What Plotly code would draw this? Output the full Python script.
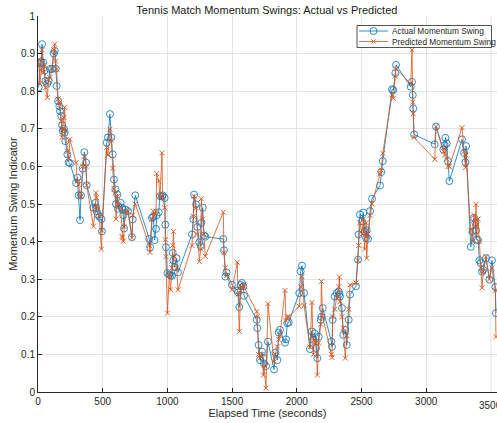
import plotly.graph_objects as go

elapsed_time = [5, 15, 25, 31, 41, 50, 57, 72, 82, 93, 108, 122, 129, 137, 144, 155, 165, 170, 180, 186,
                191, 200, 206, 211, 227, 237, 247, 294, 304, 314, 325, 332, 345, 358, 371, 376, 428, 443, 448, 453,
                463, 474, 490, 494, 531, 541, 556, 567, 577, 587, 598, 603, 613, 618, 639, 649, 654, 659, 665, 675,
                696, 726, 732, 752, 860, 866, 881, 891, 901, 912, 917, 933, 943, 958, 963, 979, 984, 989, 1000, 1015,
                1025, 1036, 1041, 1046, 1056, 1071, 1082, 1190, 1200, 1206, 1221, 1231, 1247, 1257, 1262, 1273, 1283, 1293, 1432, 1437,
                1448, 1458, 1499, 1540, 1546, 1556, 1566, 1576, 1587, 1592, 1690, 1695, 1705, 1716, 1731, 1742, 1747, 1762, 1777, 1824,
                1834, 1850, 1860, 1870, 1909, 1916, 1927, 1937, 2019, 2030, 2040, 2056, 2102, 2117, 2128, 2138, 2148, 2159, 2169, 2185,
                2190, 2200, 2267, 2272, 2277, 2293, 2308, 2324, 2329, 2334, 2349, 2359, 2375, 2386, 2401, 2411, 2457, 2473, 2478, 2488,
                2504, 2514, 2524, 2535, 2540, 2550, 2566, 2581, 2643, 2653, 2664, 2736, 2746, 2761, 2767, 2880, 2890, 2896, 2900, 2906,
                3066, 3076, 3132, 3143, 3148, 3159, 3168, 3179, 3277, 3293, 3303, 3308, 3344, 3359, 3369, 3380, 3385, 3390, 3400, 3411,
                3421, 3431, 3441, 3462, 3488, 3508, 3534, 3539]

actual_swing = [0.81, 0.875, 0.877, 0.925, 0.876, 0.855, 0.827, 0.82, 0.827, 0.859, 0.859, 0.9, 0.907, 0.86, 0.814, 0.774, 0.76, 0.747, 0.734, 0.71,
                0.694, 0.7, 0.69, 0.667, 0.632, 0.611, 0.608, 0.556, 0.57, 0.523, 0.457, 0.523, 0.594, 0.638, 0.61, 0.55, 0.49, 0.503, 0.49, 0.481,
                0.472, 0.466, 0.46, 0.427, 0.663, 0.677, 0.739, 0.677, 0.632, 0.565, 0.539, 0.5, 0.525, 0.487, 0.503, 0.49, 0.485, 0.47, 0.435, 0.485,
                0.481, 0.412, 0.459, 0.523, 0.407, 0.385, 0.463, 0.466, 0.404, 0.434, 0.47, 0.478, 0.521, 0.52, 0.523, 0.516, 0.445, 0.385, 0.316, 0.312,
                0.31, 0.309, 0.37, 0.35, 0.332, 0.356, 0.318, 0.419, 0.46, 0.525, 0.499, 0.439, 0.398, 0.388, 0.45, 0.49, 0.416, 0.413, 0.407, 0.377,
                0.307, 0.318, 0.285, 0.27, 0.265, 0.226, 0.285, 0.29, 0.281, 0.256, 0.192, 0.17, 0.125, 0.085, 0.107, 0.09, 0.076, 0.069, 0.134, 0.06,
                0.105, 0.085, 0.158, 0.165, 0.131, 0.14, 0.183, 0.185, 0.263, 0.321, 0.336, 0.263, 0.114, 0.161, 0.139, 0.156, 0.117, 0.09, 0.147, 0.192,
                0.2, 0.223, 0.134, 0.12, 0.192, 0.254, 0.263, 0.267, 0.26, 0.254, 0.223, 0.152, 0.165, 0.125, 0.192, 0.259, 0.281, 0.352, 0.419, 0.472,
                0.454, 0.477, 0.427, 0.41, 0.43, 0.407, 0.481, 0.514, 0.549, 0.585, 0.614, 0.805, 0.803, 0.848, 0.87, 0.812, 0.825, 0.79, 0.754, 0.685,
                0.659, 0.706, 0.645, 0.656, 0.676, 0.661, 0.614, 0.561, 0.672, 0.636, 0.611, 0.654, 0.386, 0.427, 0.463, 0.45, 0.43, 0.405, 0.404, 0.35,
                0.343, 0.32, 0.325, 0.356, 0.299, 0.35, 0.279, 0.21]

predicted_swing = [0.885, 0.82, 0.86, 0.91, 0.85, 0.87, 0.81, 0.783, 0.83, 0.836, 0.86, 0.91, 0.925, 0.88, 0.859, 0.779, 0.77, 0.765, 0.72, 0.677,
                   0.699, 0.73, 0.757, 0.695, 0.64, 0.62, 0.672, 0.61, 0.56, 0.552, 0.52, 0.52, 0.6, 0.627, 0.6, 0.55, 0.441, 0.49, 0.53, 0.517,
                   0.49, 0.47, 0.38, 0.43, 0.65, 0.63, 0.699, 0.67, 0.595, 0.54, 0.53, 0.46, 0.52, 0.5, 0.49, 0.414, 0.41, 0.401, 0.44, 0.48,
                   0.48, 0.41, 0.47, 0.5, 0.39, 0.371, 0.46, 0.481, 0.47, 0.48, 0.581, 0.561, 0.52, 0.636, 0.52, 0.49, 0.405, 0.36, 0.21, 0.31,
                   0.272, 0.33, 0.39, 0.427, 0.36, 0.33, 0.272, 0.39, 0.467, 0.52, 0.49, 0.42, 0.347, 0.38, 0.514, 0.46, 0.42, 0.361, 0.478, 0.37,
                   0.33, 0.31, 0.272, 0.345, 0.26, 0.161, 0.27, 0.28, 0.285, 0.28, 0.214, 0.2, 0.1, 0.09, 0.1, 0.045, 0.07, 0.01, 0.235, 0.08,
                   0.1, 0.12, 0.14, 0.15, 0.27, 0.19, 0.2, 0.2, 0.228, 0.28, 0.307, 0.23, 0.12, 0.238, 0.1, 0.14, 0.13, 0.045, 0.13, 0.18,
                   0.294, 0.2, 0.1, 0.092, 0.2, 0.22, 0.25, 0.28, 0.306, 0.24, 0.2, 0.17, 0.09, 0.15, 0.22, 0.285, 0.29, 0.35, 0.39, 0.45,
                   0.42, 0.46, 0.38, 0.45, 0.356, 0.42, 0.47, 0.5, 0.58, 0.59, 0.635, 0.79, 0.781, 0.84, 0.86, 0.82, 0.91, 0.771, 0.74, 0.677,
                   0.619, 0.706, 0.64, 0.63, 0.65, 0.62, 0.6, 0.6, 0.703, 0.64, 0.597, 0.63, 0.43, 0.4, 0.47, 0.44, 0.499, 0.42, 0.46, 0.4,
                   0.33, 0.277, 0.32, 0.36, 0.3, 0.33, 0.27, 0.147]

series_names = ["Actual Momentum Swing", "Predicted Momentum Swing"]
x_ticks = [0, 500, 1000, 1500, 2000, 2500, 3000, 3500]
y_ticks = [0, 0.1, 0.2, 0.3, 0.4, 0.5, 0.6, 0.7, 0.8, 0.9, 1]
y_tick_labels = ["0", "0.1", "0.2", "0.3", "0.4", "0.5", "0.6", "0.7", "0.8", "0.9", "1"]

blue = "#0072BD"
orange = "#D95319"
axis_col = "#262626"
font_family = "Liberation Sans, Arial, sans-serif"

W, H = 497, 423
ML, MR, MT, MB = 38, 0, 16, 31
PW, PH = W - ML - MR, H - MT - MB

def px_x(p):
    return (p - ML) / PW

def px_y(p):
    return (H - MB - p) / PH

fig = go.Figure()
fig.add_trace(go.Scatter(
    x=elapsed_time, y=actual_swing, mode="lines+markers",
    name=series_names[0], showlegend=False,
    line=dict(color=blue, width=0.8),
    marker=dict(symbol="circle-open", size=7, color=blue, line=dict(width=0.8)),
))
fig.add_trace(go.Scatter(
    x=elapsed_time, y=predicted_swing, mode="lines+markers",
    name=series_names[1], showlegend=False,
    line=dict(color=orange, width=0.8),
    marker=dict(symbol="x-thin-open", size=5, color=orange, line=dict(width=0.9, color=orange)),
))

# Compact MATLAB-style legend built from shapes + text
shapes = [dict(type="rect", xref="paper", yref="paper",
               x0=px_x(357), x1=px_x(491.5), y0=px_y(47.5), y1=px_y(25.5),
               line=dict(color=axis_col, width=0.8), fillcolor="white", layer="above")]
annotations = []
rows = [(31, blue, "circle"), (41.5, orange, "x")]
for (ry, col, sym), name in zip(rows, series_names):
    shapes.append(dict(type="line", xref="paper", yref="paper",
                       x0=px_x(359), x1=px_x(388), y0=px_y(ry), y1=px_y(ry),
                       line=dict(color=col, width=0.8), layer="above"))
    if sym == "circle":
        shapes.append(dict(type="circle", xref="paper", yref="paper",
                           x0=px_x(370), x1=px_x(377), y0=px_y(ry + 3.5), y1=px_y(ry - 3.5),
                           line=dict(color=col, width=0.8), fillcolor="rgba(0,0,0,0)", layer="above"))
    else:
        for dy in (-1, 1):
            shapes.append(dict(type="line", xref="paper", yref="paper",
                               x0=px_x(371.5), x1=px_x(375.5), y0=px_y(ry - 2 * dy), y1=px_y(ry + 2 * dy),
                               line=dict(color=col, width=0.9), layer="above"))
    annotations.append(dict(text=name, xref="paper", yref="paper",
                            x=px_x(389.5), y=px_y(ry), xanchor="left", yanchor="middle",
                            showarrow=False, font=dict(size=8.3, color=axis_col)))

# partially visible last x tick label, as in the cropped reference
annotations.append(dict(text="3500", xref="x", yref="paper", x=3500, y=px_y(398),
                        xanchor="center", yanchor="top", showarrow=False,
                        font=dict(size=10, color=axis_col)))

fig.update_layout(
    width=W, height=H,
    margin=dict(l=ML, r=MR, t=MT, b=MB, autoexpand=False),
    paper_bgcolor="white", plot_bgcolor="white",
    font=dict(family=font_family, size=10, color=axis_col),
    title=dict(text="Tennis Match Momentum Swings: Actual vs Predicted",
               x=0.537, xanchor="center", y=0.977, yanchor="middle",
               font=dict(size=11, color="#1a1a1a"), automargin=False),
    showlegend=False,
    shapes=shapes,
    annotations=annotations,
)
fig.update_xaxes(
    range=[0, 3547], tickvals=x_ticks[:-1], ticktext=[str(v) for v in x_ticks[:-1]],
    showgrid=True, gridcolor="#e5e5e5", gridwidth=1, automargin=False,
    showline=True, linecolor=axis_col, linewidth=1,
    ticks="inside", ticklen=4, tickcolor=axis_col, zeroline=False,
    title=dict(text="Elapsed Time (seconds)", font=dict(size=11), standoff=2),
    tickfont=dict(size=10),
)
fig.update_yaxes(
    range=[0, 1], tickvals=y_ticks, ticktext=y_tick_labels,
    showgrid=True, gridcolor="#e5e5e5", gridwidth=1, automargin=False,
    showline=True, linecolor=axis_col, linewidth=1,
    ticks="inside", ticklen=4, tickcolor=axis_col, zeroline=False,
    title=dict(text="Momentum Swing Indicator", font=dict(size=11), standoff=1),
    tickfont=dict(size=10),
)
# grid line at 3500 (its tick label is handled by the annotation)
fig.add_vline(x=3500, line=dict(color="#e5e5e5", width=1), layer="below")

fig.write_html("out.html", config={"displayModeBar": False},
               post_script="document.body.style.margin='0';")
